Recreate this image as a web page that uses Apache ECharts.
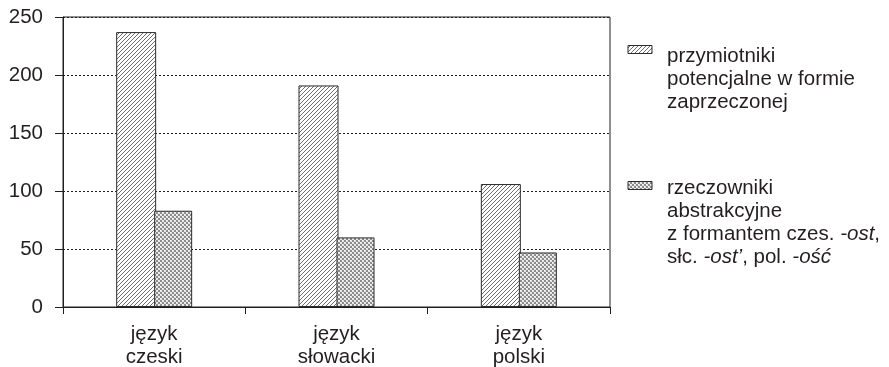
<!DOCTYPE html>
<html>
<head>
<meta charset="utf-8">
<style>
  html, body { margin: 0; padding: 0; background: #fff; }
  #chart { width: 889px; height: 367px; }
</style>
<script src="https://cdn.jsdelivr.net/npm/echarts@6/dist/echarts.min.js"></script>
</head>
<body>
<div id="chart"></div>
<script>
// Categories (languages) and counts for the two word classes
const categories = ['język\nczeski', 'język\nsłowacki', 'język\npolski'];
const adjectives = [237, 191, 106];   // przymiotniki potencjalne w formie zaprzeczonej
const nouns = [83, 60, 47];           // rzeczowniki abstrakcyjne z formantem -ost / -ost' / -ość
const yTicks = { min: 0, max: 250, step: 50 };

const FONT = '"Liberation Sans", Arial, Helvetica, sans-serif';
const INK = '#231f20';
const FS = 20.5;

// Hatch fills drawn on small canvases and tiled by the renderer
function diagonalTile() {
  const c = document.createElement('canvas');
  c.width = 4; c.height = 4;
  const g = c.getContext('2d');
  g.fillStyle = '#fff'; g.fillRect(0, 0, 4, 4);
  g.strokeStyle = '#6e6e6e'; g.lineWidth = 1;
  g.beginPath();
  g.moveTo(-1, 5); g.lineTo(5, -1);
  g.moveTo(-1, 1); g.lineTo(1, -1);
  g.moveTo(3, 5); g.lineTo(5, 3);
  g.stroke();
  return c;
}
function crossTile() {
  const c = document.createElement('canvas');
  c.width = 4; c.height = 4;
  const g = c.getContext('2d');
  g.fillStyle = '#e6e6e6'; g.fillRect(0, 0, 4, 4);
  g.fillStyle = '#8c8c8c';
  g.fillRect(0, 0, 2, 2);
  g.fillRect(2, 2, 2, 2);
  g.fillStyle = '#f8f8f8';
  g.fillRect(2, 0, 1, 1);
  g.fillRect(0, 2, 1, 1);
  return c;
}
const hatchA = { image: diagonalTile(), repeat: 'repeat' };
const hatchB = { image: crossTile(), repeat: 'repeat' };

const chart = echarts.init(document.getElementById('chart'), null, { renderer: 'canvas' });

const legendX = 628, textX = 667;
chart.setOption({
  animation: false,
  backgroundColor: '#fff',
  textStyle: { fontFamily: FONT, color: INK },
  grid: {
    left: 63, right: 279, top: 17, bottom: 60,
    containLabel: false, outerBoundsMode: 'none',
    show: true, borderColor: INK, borderWidth: 1, backgroundColor: 'transparent'
  },
  xAxis: {
    type: 'category',
    data: categories,
    axisLine: { lineStyle: { color: INK, width: 1 } },
    axisTick: { show: true, length: 7, inside: false, lineStyle: { color: INK } },
    axisLabel: { color: INK, fontFamily: FONT, fontSize: FS, lineHeight: 23, margin: 16 },
    splitLine: { show: false }
  },
  yAxis: {
    type: 'value',
    min: yTicks.min, max: yTicks.max, interval: yTicks.step,
    axisLine: { show: true, lineStyle: { color: INK, width: 1 } },
    axisTick: { show: true, length: 8, inside: false, lineStyle: { color: INK } },
    axisLabel: { color: INK, fontFamily: FONT, fontSize: FS, margin: 20 },
    splitLine: { show: true, lineStyle: { color: INK, type: [2, 2], width: 1 } }
  },
  series: [
    {
      name: 'przymiotniki potencjalne w formie zaprzeczonej',
      type: 'bar',
      data: adjectives,
      barWidth: 40,
      barGap: '-5%',
      itemStyle: { color: hatchA, borderColor: '#2b2b2b', borderWidth: 1 }
    },
    {
      name: 'rzeczowniki abstrakcyjne',
      type: 'bar',
      data: nouns,
      barWidth: 38,
      itemStyle: { color: hatchB, borderColor: '#2b2b2b', borderWidth: 1 }
    }
  ],
  graphic: [
    { type: 'rect', shape: { x: legendX, y: 45.5, width: 24, height: 8 },
      style: { fill: hatchA, stroke: '#2b2b2b', lineWidth: 1 } },
    { type: 'text', x: textX, y: 45,
      style: { text: 'przymiotniki\npotencjalne w formie\nzaprzeczonej',
               font: FS + 'px ' + FONT, fill: INK, lineHeight: 23 } },
    { type: 'rect', shape: { x: legendX, y: 181.5, width: 24, height: 8 },
      style: { fill: hatchB, stroke: '#2b2b2b', lineWidth: 1 } },
    { type: 'text', x: textX, y: 177,
      style: {
        text: '{n|rzeczowniki}\n{n|abstrakcyjne}\n{n|z formantem czes. }{i|-ost}{n|,}\n{n|słc. }{i|-ost’}{n|, pol. }{i|-ość}',
        fill: INK, lineHeight: 23,
        rich: {
          n: { fontFamily: FONT, fontSize: FS, fill: INK, lineHeight: 23 },
          i: { fontFamily: FONT, fontSize: FS, fontStyle: 'italic', fill: INK, lineHeight: 23 }
        }
      } }
  ]
});
</script>
</body>
</html>
